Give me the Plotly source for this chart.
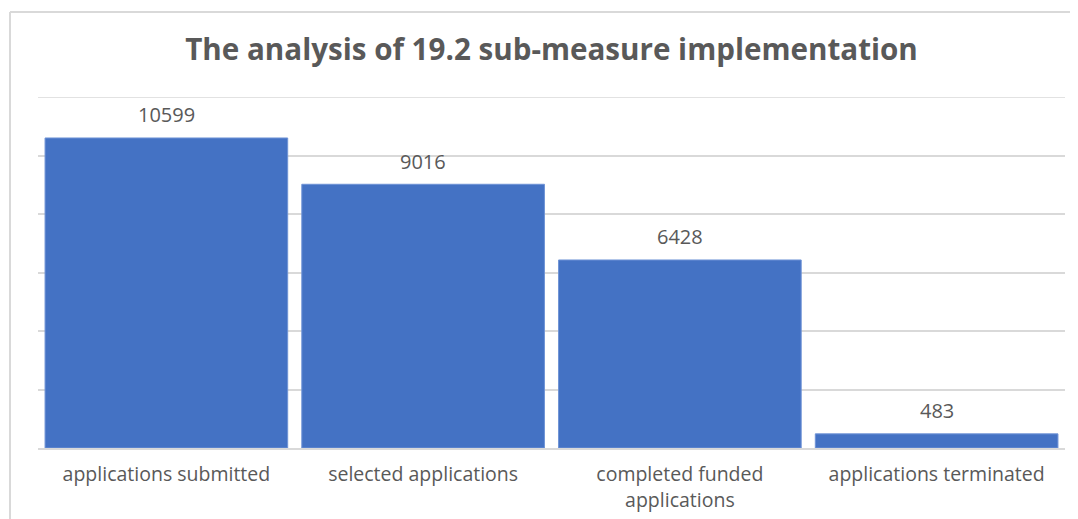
import plotly.graph_objects as go

categories = ["applications submitted", "selected applications",
              "completed funded<br>applications", "applications terminated"]
values = [10599, 9016, 6428, 483]
y_ticks = [0, 2000, 4000, 6000, 8000, 10000, 12000]

# The page body has an 8px margin, so the figure is drawn 8px smaller and positions shifted
W, H = 1070, 511
L, R, T, B = 30, 13, 89, 71
plot_w, plot_h = W - L - R, H - T - B

fig = go.Figure(go.Bar(
    x=categories, y=values,
    marker=dict(color="#4472C4", line=dict(color="#6F93D6", width=1)),
    cliponaxis=False,
))

annotations = [
    dict(x=c, y=v, xref="x", yref="y", text=str(v), showarrow=False,
         yanchor="middle", yshift=23,
         font=dict(family="Open Sans", size=20, color="#595959"))
    for c, v in zip(categories, values)
]

fig.update_layout(
    width=W, height=H,
    margin=dict(l=L, r=R, t=T, b=B, autoexpand=False),
    paper_bgcolor="white", plot_bgcolor="white",
    bargap=0.055,
    title=dict(text="<b>The analysis of 19.2 sub-measure implementation</b>",
               x=0.5, xanchor="center", xref="paper", y=1 - 42 / H, yanchor="middle",
               font=dict(family="Open Sans", size=29.6, color="#595959")),
    xaxis=dict(showgrid=False, showline=True, linecolor="#D9D9D9", linewidth=1.5,
               tickfont=dict(family="Open Sans", size=19.5, color="#595959"),
               ticks="", ticklabelstandoff=8, automargin=False),
    yaxis=dict(range=[0, 12000], tickvals=y_ticks, showticklabels=False,
               showgrid=True, gridcolor="#D9D9D9", gridwidth=1.5, zeroline=False,
               automargin=False),
    showlegend=False,
    annotations=annotations,
    shapes=[
        # top gridline (at the range edge)
        dict(type="line", xref="paper", yref="y", x0=0, x1=1, y0=y_ticks[-1], y1=y_ticks[-1],
             line=dict(color="#D9D9D9", width=1.5), layer="below"),
        # chart border (top and left visible)
        dict(type="line", xref="paper", yref="paper", x0=(2 - L) / plot_w, x1=1.2,
             y0=(H - B - 4) / plot_h, y1=(H - B - 4) / plot_h, line=dict(color="#D9D9D9", width=2)),
        dict(type="line", xref="paper", yref="paper", x0=(2 - L) / plot_w, x1=(2 - L) / plot_w,
             y0=(H - B - 4) / plot_h, y1=-0.5, line=dict(color="#D9D9D9", width=2)),
    ],
)

fig.write_html("out.html")
